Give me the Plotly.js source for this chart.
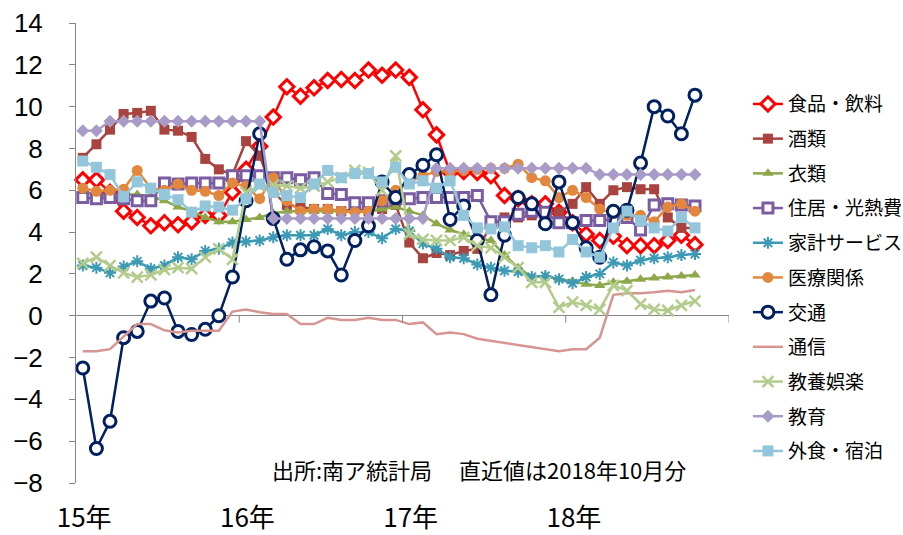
<!DOCTYPE html>
<html>
<head>
<meta charset="utf-8">
<script src="https://cdn.plot.ly/plotly-3.0.1.min.js"></script>
<style>html,body{margin:0;padding:0;background:#fff;}#chart{width:903px;height:535px;}</style>
</head>
<body>
<div id="chart"></div>
<script>
// Monthly index positions: Jan 2015 .. Oct 2018 (46 months)
const months = ["2015-01","2015-02","2015-03","2015-04","2015-05","2015-06","2015-07","2015-08","2015-09","2015-10","2015-11","2015-12",
"2016-01","2016-02","2016-03","2016-04","2016-05","2016-06","2016-07","2016-08","2016-09","2016-10","2016-11","2016-12",
"2017-01","2017-02","2017-03","2017-04","2017-05","2017-06","2017-07","2017-08","2017-09","2017-10","2017-11","2017-12",
"2018-01","2018-02","2018-03","2018-04","2018-05","2018-06","2018-07","2018-08","2018-09","2018-10"];
const yearLabels = ["15年","16年","17年","18年"];
const yearStartIndex = [0,12,24,36];

const food = [6.5,6.5,5.9,5.0,4.7,4.3,4.45,4.35,4.5,4.8,4.8,5.9, 7.0,8.1,9.5,10.95,10.5,10.9,11.25,11.3,11.25,11.75,11.5,11.75, 11.4,9.85,8.65,6.85,6.9,6.85,6.7,5.75,5.6,5.35,5.35,4.95, 4.45,3.9,3.6,3.8,3.35,3.35,3.35,3.6,3.85,3.4];
const alcohol = [7.55,8.2,8.9,9.65,9.7,9.8,8.9,8.85,8.55,7.5,7.0,6.75, 8.35,7.65,5.9,5.3,5.2,5.1,5.1,5.0,5.1,5.0,5.1,5.3, 3.5,2.75,3.0,2.9,3.1,3.2,4.3,4.7,4.7,4.8,4.9,4.95, 5.35,6.15,5.35,6.0,6.15,6.05,6.05,4.7,4.2,4.2];
const clothing = [5.9,5.8,5.7,5.8,5.8,5.7,5.5,5.2,5.0,4.7,4.5,4.5, 4.6,4.7,4.9,5.0,5.0,5.0,5.0,5.0,5.0,5.0,5.1,5.2, 5.0,4.8,4.4,4.1,3.9,3.7,3.6,2.9,2.3,1.85,1.9,1.75, 1.65,1.5,1.45,1.6,1.65,1.75,1.8,1.85,1.9,1.95];
const housing = [5.65,5.6,5.65,5.6,5.5,5.5,6.35,6.3,6.35,6.35,6.35,6.7, 6.7,6.7,6.6,6.6,6.5,6.6,5.85,5.8,5.4,5.4,5.5,5.6, 5.6,5.65,5.65,5.65,5.65,5.75,4.5,4.5,4.85,5.0,4.95,4.45, 4.45,4.55,4.55,4.6,4.7,4.1,5.3,5.35,5.3,5.25];
const household = [2.4,2.3,2.05,2.35,2.6,2.25,2.4,2.8,2.7,3.1,3.2,3.5, 3.55,3.6,3.75,3.85,3.85,3.85,4.15,3.85,4.0,4.0,3.7,4.15, 4.05,3.45,3.2,2.8,2.75,2.45,2.3,2.15,2.1,1.85,1.9,1.75, 1.55,1.85,2.0,2.55,2.4,2.65,2.75,2.8,2.9,2.95];
const medical = [6.1,5.95,6.0,6.05,6.95,6.1,6.0,6.3,6.0,5.95,5.75,6.35, 6.2,5.6,6.6,5.5,5.0,5.1,5.1,5.0,4.95,5.0,5.5,6.0, 6.4,6.7,6.9,6.9,6.95,7.0,7.05,7.05,7.25,6.6,6.45,5.65, 6.0,5.65,5.1,4.9,4.8,4.8,4.5,5.2,5.35,5.0];
const transport = [-2.5,-6.35,-5.05,-1.05,-0.75,0.7,0.85,-0.75,-0.9,-0.65,0.0,1.85, 5.5,8.7,4.65,2.7,3.15,3.3,3.1,1.95,3.6,4.3,6.4,5.65, 6.75,7.2,7.7,4.6,5.25,3.6,1.0,3.85,5.65,5.35,4.4,6.4, 4.45,3.25,2.8,5.0,5.05,7.3,10.0,9.55,8.7,10.55];
const telecom = [-1.7,-1.7,-1.6,-1.0,-0.4,-0.4,-0.7,-0.8,-0.72,-0.72,-0.72,0.2, 0.3,0.17,0.08,0.08,-0.4,-0.4,-0.1,-0.2,-0.2,-0.1,-0.2,-0.2, -0.4,-0.32,-0.88,-0.8,-0.88,-1.1,-1.2,-1.3,-1.4,-1.5,-1.6,-1.7, -1.6,-1.6,-1.05,1.0,1.07,1.07,1.12,1.2,1.12,1.23];
const recreation = [2.5,2.8,2.4,2.05,1.85,1.95,2.2,2.3,2.25,2.8,3.2,2.7, 5.9,6.2,6.25,6.2,6.1,6.2,6.4,6.6,6.95,6.85,6.0,7.65, 3.9,3.65,3.6,3.6,3.75,3.35,3.25,2.8,2.3,1.6,1.6,0.4, 0.65,0.5,0.3,1.45,1.2,0.55,0.3,0.25,0.5,0.7];
const education = [8.85,8.85,9.3,9.3,9.3,9.3,9.3,9.3,9.3,9.3,9.3,9.3, 9.3,9.3,4.65,4.65,4.65,4.65,4.65,4.65,4.65,4.65,4.65,4.65, 4.65,4.65,7.05,7.05,7.05,7.05,7.05,7.05,7.05,7.05,7.05,7.05, 7.05,7.05,6.75,6.75,6.75,6.75,6.75,6.75,6.75,6.75];
const dining = [7.4,7.1,6.75,5.7,6.4,6.1,5.8,5.55,4.95,5.25,5.2,5.05, 5.6,6.3,5.9,5.75,5.65,6.3,6.95,6.6,6.8,6.8,6.4,7.1, 6.3,6.45,6.1,6.45,4.8,4.2,4.15,4.25,3.35,3.25,3.35,3.05, 3.65,3.05,2.8,4.2,5.0,4.55,4.2,4.05,4.7,4.2];

const names = ["食品・飲料","酒類","衣類","住居・光熱費","家計サービス","医療関係","交通","通信","教養娯楽","教育","外食・宿泊"];
const seriesValues = [food, alcohol, clothing, housing, household, medical, transport, telecom, recreation, education, dining];

const styles = [
  {color:"#FF0000", marker:{symbol:"diamond", size:11, color:"#FFFFFF", line:{color:"#FF0000", width:3}}},
  {color:"#A8433F", marker:{symbol:"square", size:10, color:"#A8433F"}},
  {color:"#8CA84A", marker:{symbol:"triangle-up", size:10, color:"#8CA84A"}},
  {color:"#7A5CA0", marker:{symbol:"square", size:10, color:"#FFFFFF", line:{color:"#7A5CA0", width:3}}},
  {color:"#3C9AB5", marker:{symbol:"asterisk-open", size:10, line:{color:"#3C9AB5", width:2}}},
  {color:"#E1883E", marker:{symbol:"circle", size:11, color:"#E1883E"}},
  {color:"#002060", marker:{symbol:"circle", size:12, color:"#FFFFFF", line:{color:"#002060", width:3}}},
  {color:"#D69593", marker:null},
  {color:"#B3CC8C", marker:{symbol:"x-thin-open", size:11, line:{color:"#B3CC8C", width:2.5}}},
  {color:"#A99BC8", marker:{symbol:"diamond", size:10, color:"#A99BC8"}},
  {color:"#93C6DB", marker:{symbol:"square", size:11, color:"#93C6DB"}}
];

const xs = months.map((m,i)=>i);
const traces = names.map((n,k)=>{
  const t = {
    type:"scatter", x: xs, y: seriesValues[k], name: n,
    legendgroup: "g"+k,
    mode: styles[k].marker ? "lines+markers" : "lines",
    line: {color: styles[k].color, width: 2.5},
    cliponaxis: false
  };
  if (styles[k].marker) t.marker = styles[k].marker;
  return t;
});

const boundaries = yearStartIndex.slice(1).map(v=>v-0.5).concat([47.5]);
const shapes = boundaries.map(b=>({
  type:"line", xref:"x", yref:"y", x0:b, x1:b, y0:0, y1:-7,
  ysizemode:"pixel", yanchor:0,
  line:{color:"#868686", width:1}
}));

const layout = {
  width: 903, height: 535,
  margin: {l:76, r:174, t:23, b:52, pad:0, autoexpand:false},
  paper_bgcolor:"#FFFFFF", plot_bgcolor:"#FFFFFF",
  font: {family:"'Noto Sans CJK JP', 'Liberation Sans', sans-serif", color:"#000000", size:20},
  showlegend: true,
  legend: {
    x: 1.029, xanchor:"left", y: 0.865, yanchor:"top",
    maxheight: 440,
    font: {size:19, family:"'Noto Sans CJK JP', sans-serif"},
    tracegroupgap: 7, itemwidth: 30, bgcolor:"rgba(0,0,0,0)"
  },
  xaxis: {
    range: [-0.5, 47.5], automargin:false,
    showgrid:false, zeroline:false, showline:false,
    ticks:"", tickmode:"array",
    tickvals: yearStartIndex.map(v=>v+0.1), ticktext: yearLabels,
    tickfont: {size:26}, ticklabelstandoff: 17
  },
  yaxis: {
    range: [-8, 14], dtick: 2, tick0: 0, automargin:false,
    showgrid:false, showline:true, linecolor:"#868686", linewidth:1,
    ticks:"outside", ticklen:6, tickcolor:"#868686",
    zeroline:true, zerolinecolor:"#868686", zerolinewidth:1.5,
    tickfont: {size:26, family:"'Liberation Sans Narrow','Liberation Sans',sans-serif"},
    ticklabelstandoff: 21
  },
  shapes: shapes,
  annotations: [{
    xref:"paper", yref:"paper", x:0.617, y:0.03, xanchor:"center", yanchor:"middle",
    text:"出所:南ア統計局　 直近値は2018年10月分", showarrow:false,
    font:{size:22, family:"'Noto Sans CJK JP', sans-serif"}
  }]
};

Plotly.newPlot("chart", traces, layout, {displayModeBar:false, staticPlot:true});
</script>
</body>
</html>
